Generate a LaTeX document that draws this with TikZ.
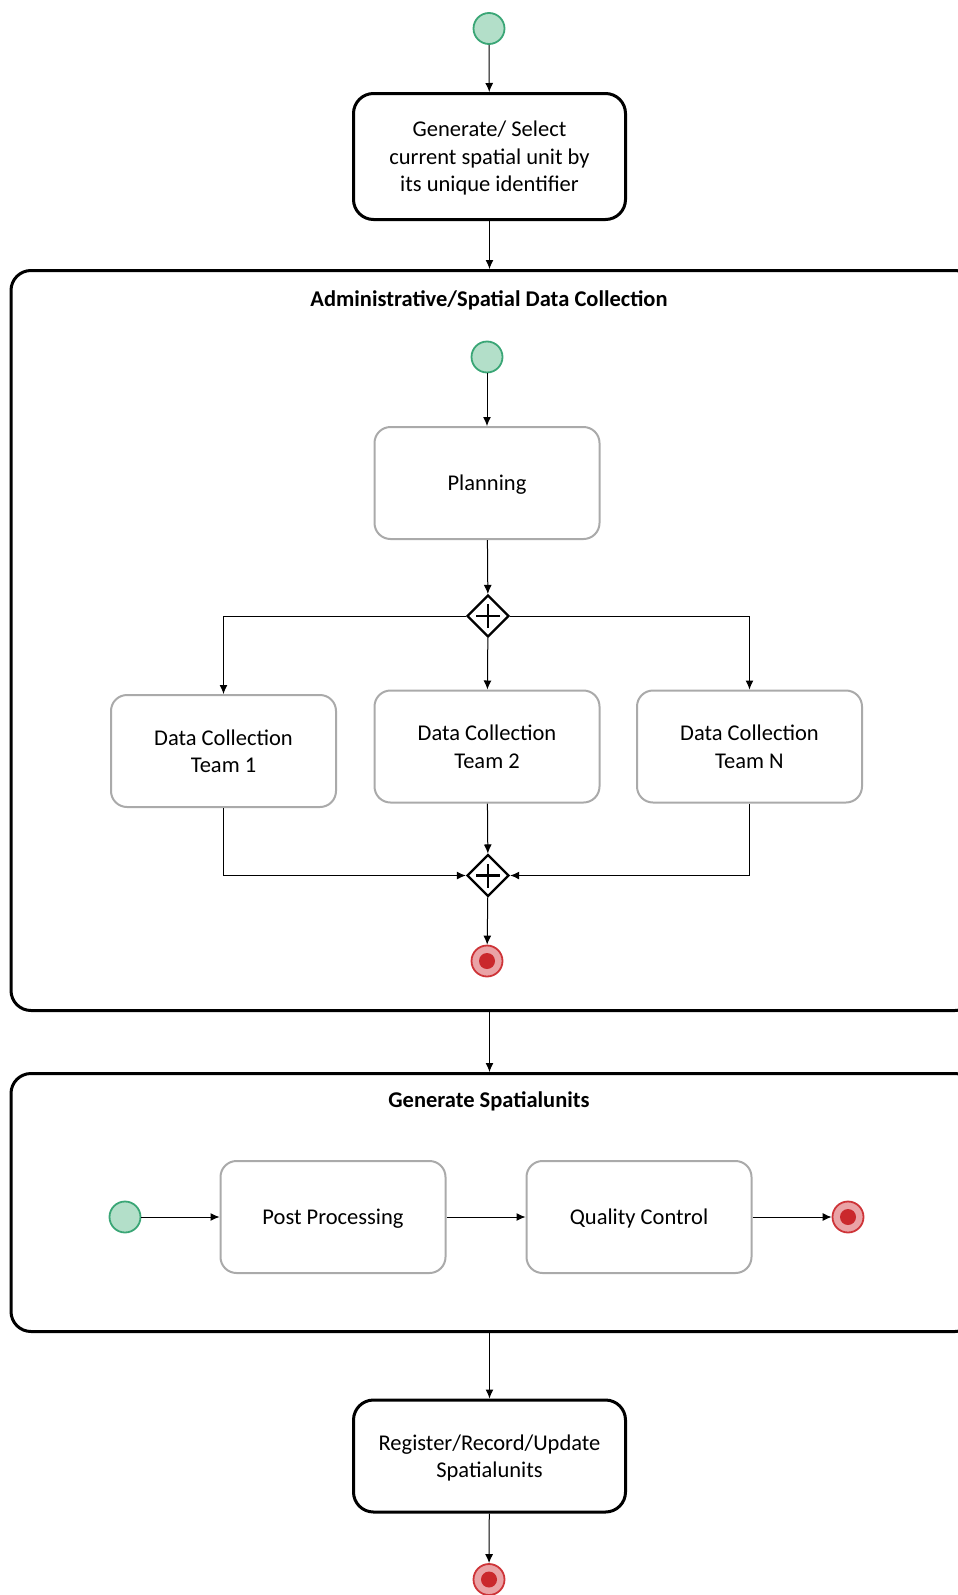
\documentclass[tikz,border=0pt]{standalone}
\usepackage{fontspec}
\setmainfont{Carlito}
\usetikzlibrary{shapes.geometric,arrows.meta}

\definecolor{startfill}{RGB}{179,223,201}
\definecolor{startline}{RGB}{58,166,118}
\definecolor{endfill}{RGB}{234,163,166}
\definecolor{endline}{RGB}{206,52,56}
\definecolor{enddot}{RGB}{202,40,44}
\definecolor{boxline}{RGB}{170,170,170}

\newcommand{\bpmnfont}{\fontsize{22.5}{27.5}\selectfont}

\tikzset{
  flow/.style={-{Latex[length=9pt,width=8pt]}, line width=1pt},
  startev/.style={circle, draw=startline, fill=startfill, line width=1.8pt, minimum size=31pt, inner sep=0pt},
  endev/.style={circle, draw=endline, fill=endfill, line width=1.8pt, minimum size=31pt, inner sep=0pt,
    path picture={\fill[enddot] (path picture bounding box.center) circle (8pt);}},
  gateway/.style={diamond, draw, fill=white, line width=2.4pt, minimum size=42pt, inner sep=0pt,
    path picture={\draw[line width=2.4pt] ([xshift=-12pt]path picture bounding box.center) -- ([xshift=12pt]path picture bounding box.center)
      ([yshift=-12pt]path picture bounding box.center) -- ([yshift=12pt]path picture bounding box.center);}},
  mainbox/.style={draw, rounded corners=20pt, line width=3pt, align=center, minimum width=272pt, text depth=0pt},
  task/.style={draw=boxline, rounded corners=16pt, line width=2pt, align=center, minimum width=225pt, minimum height=112pt, text depth=0pt},
  pool/.style={draw, rounded corners=20pt, line width=3pt},
  pooltitle/.style={font=\bpmnfont\bfseries, anchor=base}
}

\begin{document}
\begin{tikzpicture}[x=1pt, y=-1pt, font=\bpmnfont]

    \useasboundingbox (0,0) rectangle (958,1595);
    \clip (0,0) rectangle (958,1595);

    % Top start and first task
    \node[startev] (s0) at (489,28.5) {};
    \node[mainbox, minimum height=126pt] (gen) at (489.5,156.5) {Generate/ Select\\current spatial unit by\\its unique identifier};

    % Pool: data collection
    \node[pool, minimum width=964pt, minimum height=740pt] (adc) at (493,640.5) {};
    \node[pooltitle] (adctitle) at (489,306) {Administrative/Spatial Data Collection};

    \node[startev] (s1) at (487,357) {};
    \node[task] (plan) at (487,483) {Planning};
    \node[gateway] (g1) at (488,616) {};

    \node[task] (t1) at (223.5,751) {Data Collection\\Team 1};
    \node[task] (t2) at (487,746.5) {Data Collection\\Team 2};
    \node[task] (tn) at (749.5,746.5) {Data Collection\\Team N};

    \node[gateway] (g2) at (488,875.5) {};
    \node[endev] (e1) at (487,961) {};

    % Pool: spatial units
    \node[pool, minimum width=964pt, minimum height=258pt] (gsu) at (493,1202.5) {};
    \node[pooltitle] (gsutitle) at (489,1107) {Generate Spatialunits};

    \node[startev] (s2) at (125,1217) {};
    \node[task] (pp) at (333,1217) {Post Processing};
    \node[task] (qc) at (639,1217) {Quality Control};
    \node[endev] (e2) at (848,1217) {};

    % Last task and end
    \node[mainbox, minimum height=112pt] (reg) at (489.5,1456) {Register/Record/Update\\Spatialunits};
    \node[endev] (e3) at (489,1579.5) {};

    % Flows outside the pools
    \draw[flow] (s0) -- (gen);
    \draw[flow] (gen.south) -- (gen.south |- adc.north);
    \draw[flow] (gen.south |- adc.south) -- (gen.south |- gsu.north);
    \draw[flow] (gen.south |- gsu.south) -- (reg.north);
    \draw[flow] (reg) -- (e3);

    % Flows in the first pool
    \draw[flow] (s1) -- (plan);
    \draw[flow] (plan) -- (g1);
    \draw[flow] (g1.west) -| (t1.north);
    \draw[flow] (g1) -- (t2);
    \draw[flow] (g1.east) -| (tn.north);
    \draw[flow] (t1.south) |- (g2.west);
    \draw[flow] (t2) -- (g2);
    \draw[flow] (tn.south) |- (g2.east);
    \draw[flow] (g2) -- (e1);

    % Flows in the second pool
    \draw[flow] (s2) -- (pp);
    \draw[flow] (pp) -- (qc);
    \draw[flow] (qc) -- (e2);

\end{tikzpicture}
\end{document}
